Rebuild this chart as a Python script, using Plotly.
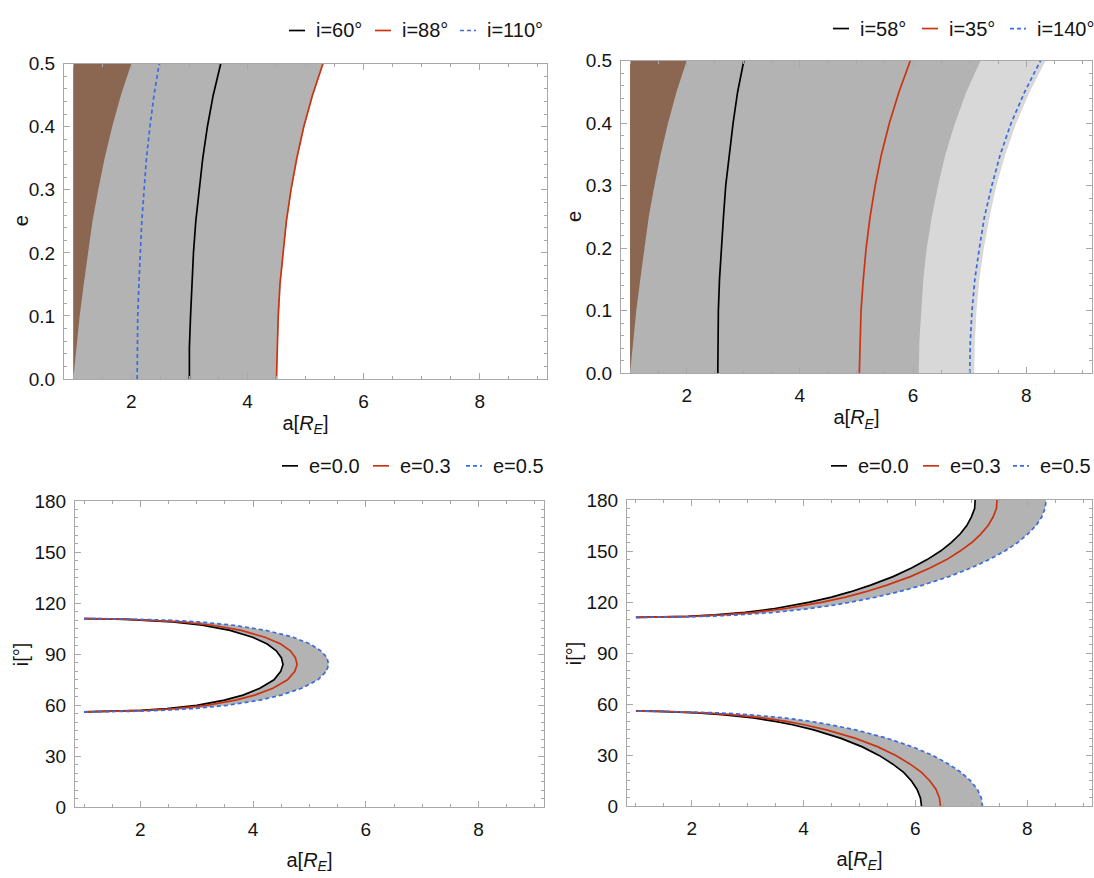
import plotly.graph_objects as go

# ---------------- data ----------------
A_MIN = 1.0  # a = 1 R_E (left boundary of the shaded regions)

# top panels: eccentricity grid and a(e) curves
E_GRID = [0.0, 0.05, 0.1, 0.15, 0.2, 0.25, 0.3, 0.35, 0.4, 0.45, 0.5]
A_PERIGEE = [1.00, 1.05, 1.11, 1.18, 1.25, 1.33, 1.43, 1.54, 1.67, 1.82, 2.00]  # brown edge

# top-left
TL_GRAY_EDGE = [4.51, 4.52, 4.54, 4.57, 4.62, 4.68, 4.76, 4.86, 4.98, 5.13, 5.31]
TL_I60 = [3.00, 3.00, 3.02, 3.04, 3.07, 3.11, 3.17, 3.23, 3.31, 3.41, 3.54]
TL_I88 = [4.50, 4.51, 4.53, 4.56, 4.61, 4.67, 4.75, 4.85, 4.97, 5.12, 5.30]
TL_I110 = [2.10, 2.10, 2.11, 2.13, 2.15, 2.18, 2.22, 2.26, 2.32, 2.39, 2.48]

# top-right
TR_DARK_EDGE = [6.10, 6.11, 6.14, 6.18, 6.24, 6.33, 6.44, 6.57, 6.74, 6.94, 7.19]
TR_LIGHT_EDGE = [7.08, 7.09, 7.12, 7.17, 7.25, 7.35, 7.47, 7.63, 7.82, 8.06, 8.34]
TR_I58 = [2.55, 2.55, 2.56, 2.58, 2.61, 2.65, 2.69, 2.75, 2.82, 2.90, 3.01]
TR_I35 = [5.05, 5.06, 5.08, 5.12, 5.17, 5.24, 5.33, 5.44, 5.58, 5.75, 5.95]
TR_I140 = [7.00, 7.01, 7.04, 7.09, 7.17, 7.26, 7.39, 7.54, 7.73, 7.97, 8.25]

# bottom-left: i (deg) vs a for e = 0.0, 0.3, 0.5
BL_I_E0 = [56.14, 56.5, 57, 58, 60, 63, 66, 70, 75, 80, 84, 88, 92, 96, 100, 104, 107, 109, 110, 110.5, 110.8, 110.92]
BL_A_E0 = [1.00, 1.62, 2.01, 2.47, 3.00, 3.49, 3.82, 4.12, 4.37, 4.49, 4.53, 4.50, 4.41, 4.25, 3.99, 3.59, 3.10, 2.57, 2.12, 1.74, 1.33, 1.00]
BL_I_E3 = [56.13, 56.5, 57, 58, 60, 63, 66, 70, 75, 80, 84, 88, 92, 96, 100, 104, 107, 109, 110, 110.5, 110.8, 110.94]
BL_A_E3 = [1.00, 1.71, 2.12, 2.61, 3.17, 3.69, 4.03, 4.35, 4.61, 4.74, 4.78, 4.75, 4.66, 4.49, 4.21, 3.79, 3.28, 2.71, 2.23, 1.83, 1.40, 1.00]
BL_I_E5 = [56.12, 56.15, 56.5, 57, 58, 60, 63, 66, 70, 75, 80, 84, 88, 92, 96, 100, 104, 107, 109, 110, 110.5, 110.8, 110.9, 110.96]
BL_A_E5 = [1.00, 1.20, 1.91, 2.37, 2.91, 3.54, 4.12, 4.50, 4.86, 5.15, 5.30, 5.34, 5.31, 5.20, 5.01, 4.71, 4.23, 3.66, 3.03, 2.49, 2.05, 1.57, 1.27, 1.00]

# bottom-right: lower branch (i < 56) and upper branch (i > 111)
BR_LO_I_E0 = [0, 5, 10, 15, 20, 25, 30, 35, 40, 45, 48, 50, 52, 54, 55, 55.5, 55.8, 55.95, 55.99]
BR_LO_A_E0 = [6.11, 6.09, 6.03, 5.93, 5.79, 5.59, 5.35, 5.05, 4.67, 4.18, 3.80, 3.49, 3.10, 2.54, 2.10, 1.75, 1.41, 1.11, 1.00]
BR_LO_I_E3 = [0, 5, 10, 15, 20, 25, 30, 35, 40, 45, 48, 50, 52, 54, 55, 55.5, 55.8, 55.95, 56.0]
BR_LO_A_E3 = [6.45, 6.43, 6.37, 6.26, 6.11, 5.90, 5.65, 5.33, 4.93, 4.41, 4.01, 3.69, 3.27, 2.69, 2.22, 1.85, 1.49, 1.17, 1.00]
BR_LO_I_E5 = [0, 5, 10, 15, 20, 25, 30, 35, 40, 45, 48, 50, 52, 54, 55, 55.5, 55.8, 55.95, 56.0, 56.03]
BR_LO_A_E5 = [7.20, 7.18, 7.11, 6.99, 6.82, 6.59, 6.31, 5.95, 5.50, 4.93, 4.48, 4.12, 3.66, 3.00, 2.48, 2.06, 1.66, 1.31, 1.11, 1.00]

BR_UP_I_E0 = [111.07, 111.1, 111.3, 111.7, 112.5, 114, 116, 118, 120, 123, 126, 130, 135, 140, 145, 150, 155, 160, 165, 170, 175, 180]
BR_UP_A_E0 = [1.00, 1.12, 1.52, 1.93, 2.41, 2.95, 3.44, 3.81, 4.11, 4.50, 4.83, 5.20, 5.60, 5.93, 6.21, 6.45, 6.64, 6.80, 6.92, 7.00, 7.06, 7.07]
BR_UP_I_E3 = [111.06, 111.1, 111.3, 111.7, 112.5, 114, 116, 118, 120, 123, 126, 130, 135, 140, 145, 150, 155, 160, 165, 170, 175, 180]
BR_UP_A_E3 = [1.00, 1.19, 1.60, 2.04, 2.54, 3.11, 3.63, 4.02, 4.34, 4.75, 5.10, 5.49, 5.91, 6.26, 6.56, 6.80, 7.01, 7.17, 7.30, 7.39, 7.45, 7.46]
BR_UP_I_E5 = [111.035, 111.05, 111.1, 111.3, 111.7, 112.5, 114, 116, 118, 120, 123, 126, 130, 135, 140, 145, 150, 155, 160, 165, 170, 175, 180]
BR_UP_A_E5 = [1.00, 1.11, 1.32, 1.79, 2.28, 2.84, 3.48, 4.05, 4.49, 4.85, 5.30, 5.69, 6.13, 6.60, 6.99, 7.32, 7.60, 7.83, 8.01, 8.16, 8.26, 8.32, 8.34]

TOP_LEGEND_LEFT = ["i=60°", "i=88°", "i=110°"]
TOP_LEGEND_RIGHT = ["i=58°", "i=35°", "i=140°"]
BOTTOM_LEGEND = ["e=0.0", "e=0.3", "e=0.5"]

# ---------------- style ----------------
BLACK = "#000000"
RED = "#CC3311"
BLUE = "#3A6BE0"
GRAY = "#B3B3B3"
LIGHT_GRAY = "#D8D8D8"
BROWN = "#8B6651"
FRAME = "#A8A8A8"
TXT = "#141414"
FONT = "Liberation Sans, Arial, Helvetica, sans-serif"
LINE_W = 1.7
DASH = "4px,3px"
SERIES_STYLE = [(BLACK, "solid"), (RED, "solid"), (BLUE, DASH)]

W, H = 1094, 878
# frame boxes in pixels: (left, right, top, bottom)
BOX = {
    1: (64, 547, 55, 378),
    2: (621, 1092, 52, 372),
    3: (75, 544, 503, 817),
    4: (627, 1092, 502, 816),
}
# y-axis title centre x (pixels)
YTITLE_X = {1: 21, 2: 574, 3: 21, 4: 574}
XTITLE_STANDOFF = {1: 5, 2: 5, 3: 13, 4: 13}
# legend rows: (entry start x positions in px, row centre y in px)
LEGEND_POS = {
    1: ([289, 375, 460], 21),
    2: ([833, 922, 1010], 19),
    3: ([282, 373, 466], 467),
    4: ([831, 923, 1013], 467),
}
KEY_LEN, KEY_GAP = 16, 9

fig = go.Figure()


def xa(k):
    return "x" if k == 1 else f"x{k}"


def ya(k):
    return "y" if k == 1 else f"y{k}"


def band(k, x_right, y_vals, color):
    """Region from a = A_MIN to the curve x_right(y)."""
    xs = [A_MIN] + list(x_right) + [A_MIN]
    ys = [y_vals[0]] + list(y_vals) + [y_vals[-1]]
    fig.add_trace(go.Scatter(x=xs, y=ys, fill="toself", fillcolor=color, mode="lines",
                             line=dict(width=0, color=color), hoverinfo="skip",
                             showlegend=False, xaxis=xa(k), yaxis=ya(k)))


def between(k, x1, y1, x2, y2, color):
    xs = list(x1) + list(reversed(x2))
    ys = list(y1) + list(reversed(y2))
    fig.add_trace(go.Scatter(x=xs, y=ys, fill="toself", fillcolor=color, mode="lines",
                             line=dict(width=0, color=color), hoverinfo="skip",
                             showlegend=False, xaxis=xa(k), yaxis=ya(k)))


def curve(k, x, y, idx, name):
    color, dash = SERIES_STYLE[idx]
    fig.add_trace(go.Scatter(x=x, y=y, mode="lines", name=name,
                             line=dict(color=color, width=LINE_W, dash=dash),
                             showlegend=False, xaxis=xa(k), yaxis=ya(k)))


# ---- panel 1 (top-left)
band(1, TL_GRAY_EDGE, E_GRID, GRAY)
band(1, A_PERIGEE, E_GRID, BROWN)
curve(1, TL_I60, E_GRID, 0, TOP_LEGEND_LEFT[0])
curve(1, TL_I88, E_GRID, 1, TOP_LEGEND_LEFT[1])
curve(1, TL_I110, E_GRID, 2, TOP_LEGEND_LEFT[2])

# ---- panel 2 (top-right)
band(2, TR_LIGHT_EDGE, E_GRID, LIGHT_GRAY)
band(2, TR_DARK_EDGE, E_GRID, GRAY)
band(2, A_PERIGEE, E_GRID, BROWN)
curve(2, TR_I58, E_GRID, 0, TOP_LEGEND_RIGHT[0])
curve(2, TR_I35, E_GRID, 1, TOP_LEGEND_RIGHT[1])
curve(2, TR_I140, E_GRID, 2, TOP_LEGEND_RIGHT[2])

# ---- panel 3 (bottom-left)
between(3, BL_A_E5, BL_I_E5, BL_A_E0, BL_I_E0, GRAY)
curve(3, BL_A_E0, BL_I_E0, 0, BOTTOM_LEGEND[0])
curve(3, BL_A_E3, BL_I_E3, 1, BOTTOM_LEGEND[1])
curve(3, BL_A_E5, BL_I_E5, 2, BOTTOM_LEGEND[2])

# ---- panel 4 (bottom-right)
between(4, BR_LO_A_E5, BR_LO_I_E5, BR_LO_A_E0, BR_LO_I_E0, GRAY)
between(4, BR_UP_A_E5, BR_UP_I_E5, BR_UP_A_E0, BR_UP_I_E0, GRAY)
curve(4, BR_LO_A_E0, BR_LO_I_E0, 0, BOTTOM_LEGEND[0])
curve(4, BR_UP_A_E0, BR_UP_I_E0, 0, BOTTOM_LEGEND[0])
curve(4, BR_LO_A_E3, BR_LO_I_E3, 1, BOTTOM_LEGEND[1])
curve(4, BR_UP_A_E3, BR_UP_I_E3, 1, BOTTOM_LEGEND[1])
curve(4, BR_LO_A_E5, BR_LO_I_E5, 2, BOTTOM_LEGEND[2])
curve(4, BR_UP_A_E5, BR_UP_I_E5, 2, BOTTOM_LEGEND[2])

# ---------------- axes ----------------
layout = dict(width=W, height=H, margin=dict(l=0, r=0, t=0, b=0),
              paper_bgcolor="white", plot_bgcolor="white", showlegend=False,
              font=dict(family=FONT, size=19, color=TXT))

xtitle = "a[<i>R</i><sub><i>E</i></sub>]"
annotations = []
shapes = []
for k, (l, r, t, b) in BOX.items():
    xd = [l / W, r / W]
    yd = [1 - b / H, 1 - t / H]
    top = k in (1, 2)
    xname = "xaxis" if k == 1 else f"xaxis{k}"
    yname = "yaxis" if k == 1 else f"yaxis{k}"
    layout[xname] = dict(domain=xd, anchor=ya(k), range=[0.84, 9.16],
                         tickmode="array", tickvals=[2, 4, 6, 8],
                         ticks="inside", ticklen=6, tickwidth=1, tickcolor=FRAME,
                         minor=dict(ticks="inside", ticklen=3, tickcolor=FRAME,
                                    tickmode="array",
                                    tickvals=[1, 1.5, 2.5, 3, 3.5, 4.5, 5, 5.5, 6.5, 7, 7.5, 8.5, 9]),
                         showline=True, linecolor=FRAME, linewidth=1, mirror="allticks",
                         showgrid=False, zeroline=False, ticklabelstandoff=5,
                         tickfont=dict(size=19, color=TXT),
                         title=dict(text=xtitle, font=dict(size=20, color=TXT),
                                    standoff=XTITLE_STANDOFF[k]))
    if top:
        yd_cfg = dict(range=[0, 0.5], dtick=0.1, tick0=0, tickformat=".1f",
                      minor=dict(ticks="inside", ticklen=3, tickcolor=FRAME, dtick=0.02))
        ytitle = "e"
        names = TOP_LEGEND_LEFT if k == 1 else TOP_LEGEND_RIGHT
    else:
        yd_cfg = dict(range=[0, 180], dtick=30, tick0=0,
                      minor=dict(ticks="inside", ticklen=3, tickcolor=FRAME, dtick=5))
        ytitle = "i[°]"
        names = BOTTOM_LEGEND
    layout[yname] = dict(domain=yd, anchor=xa(k), ticks="inside", ticklen=6,
                         tickwidth=1, tickcolor=FRAME, showline=True, linecolor=FRAME,
                         linewidth=1, mirror="allticks", showgrid=False, zeroline=False,
                         ticklabelstandoff=4,
                         tickfont=dict(size=19, color=TXT),
                         **yd_cfg)
    annotations.append(dict(text=ytitle, xref="paper", yref="paper",
                            x=YTITLE_X[k] / W, y=1 - (t + b) / 2 / H,
                            xanchor="center", yanchor="middle", textangle=-90,
                            showarrow=False, font=dict(size=20, color=TXT, family=FONT)))
    # legend row above the panel
    starts, yc = LEGEND_POS[k]
    for idx, (x0, name) in enumerate(zip(starts, names)):
        color, dash = SERIES_STYLE[idx]
        shapes.append(dict(type="line", xref="paper", yref="paper",
                           x0=x0 / W, x1=(x0 + KEY_LEN) / W,
                           y0=1 - yc / H, y1=1 - yc / H,
                           line=dict(color=color, width=LINE_W, dash=dash)))
        annotations.append(dict(text=name, xref="paper", yref="paper",
                                x=(x0 + KEY_LEN + KEY_GAP) / W, y=1 - yc / H,
                                xanchor="left", yanchor="middle", showarrow=False,
                                font=dict(size=20, color=TXT, family=FONT)))
layout["annotations"] = annotations
layout["shapes"] = shapes

fig.update_layout(**layout)
fig.write_html("out.html")
